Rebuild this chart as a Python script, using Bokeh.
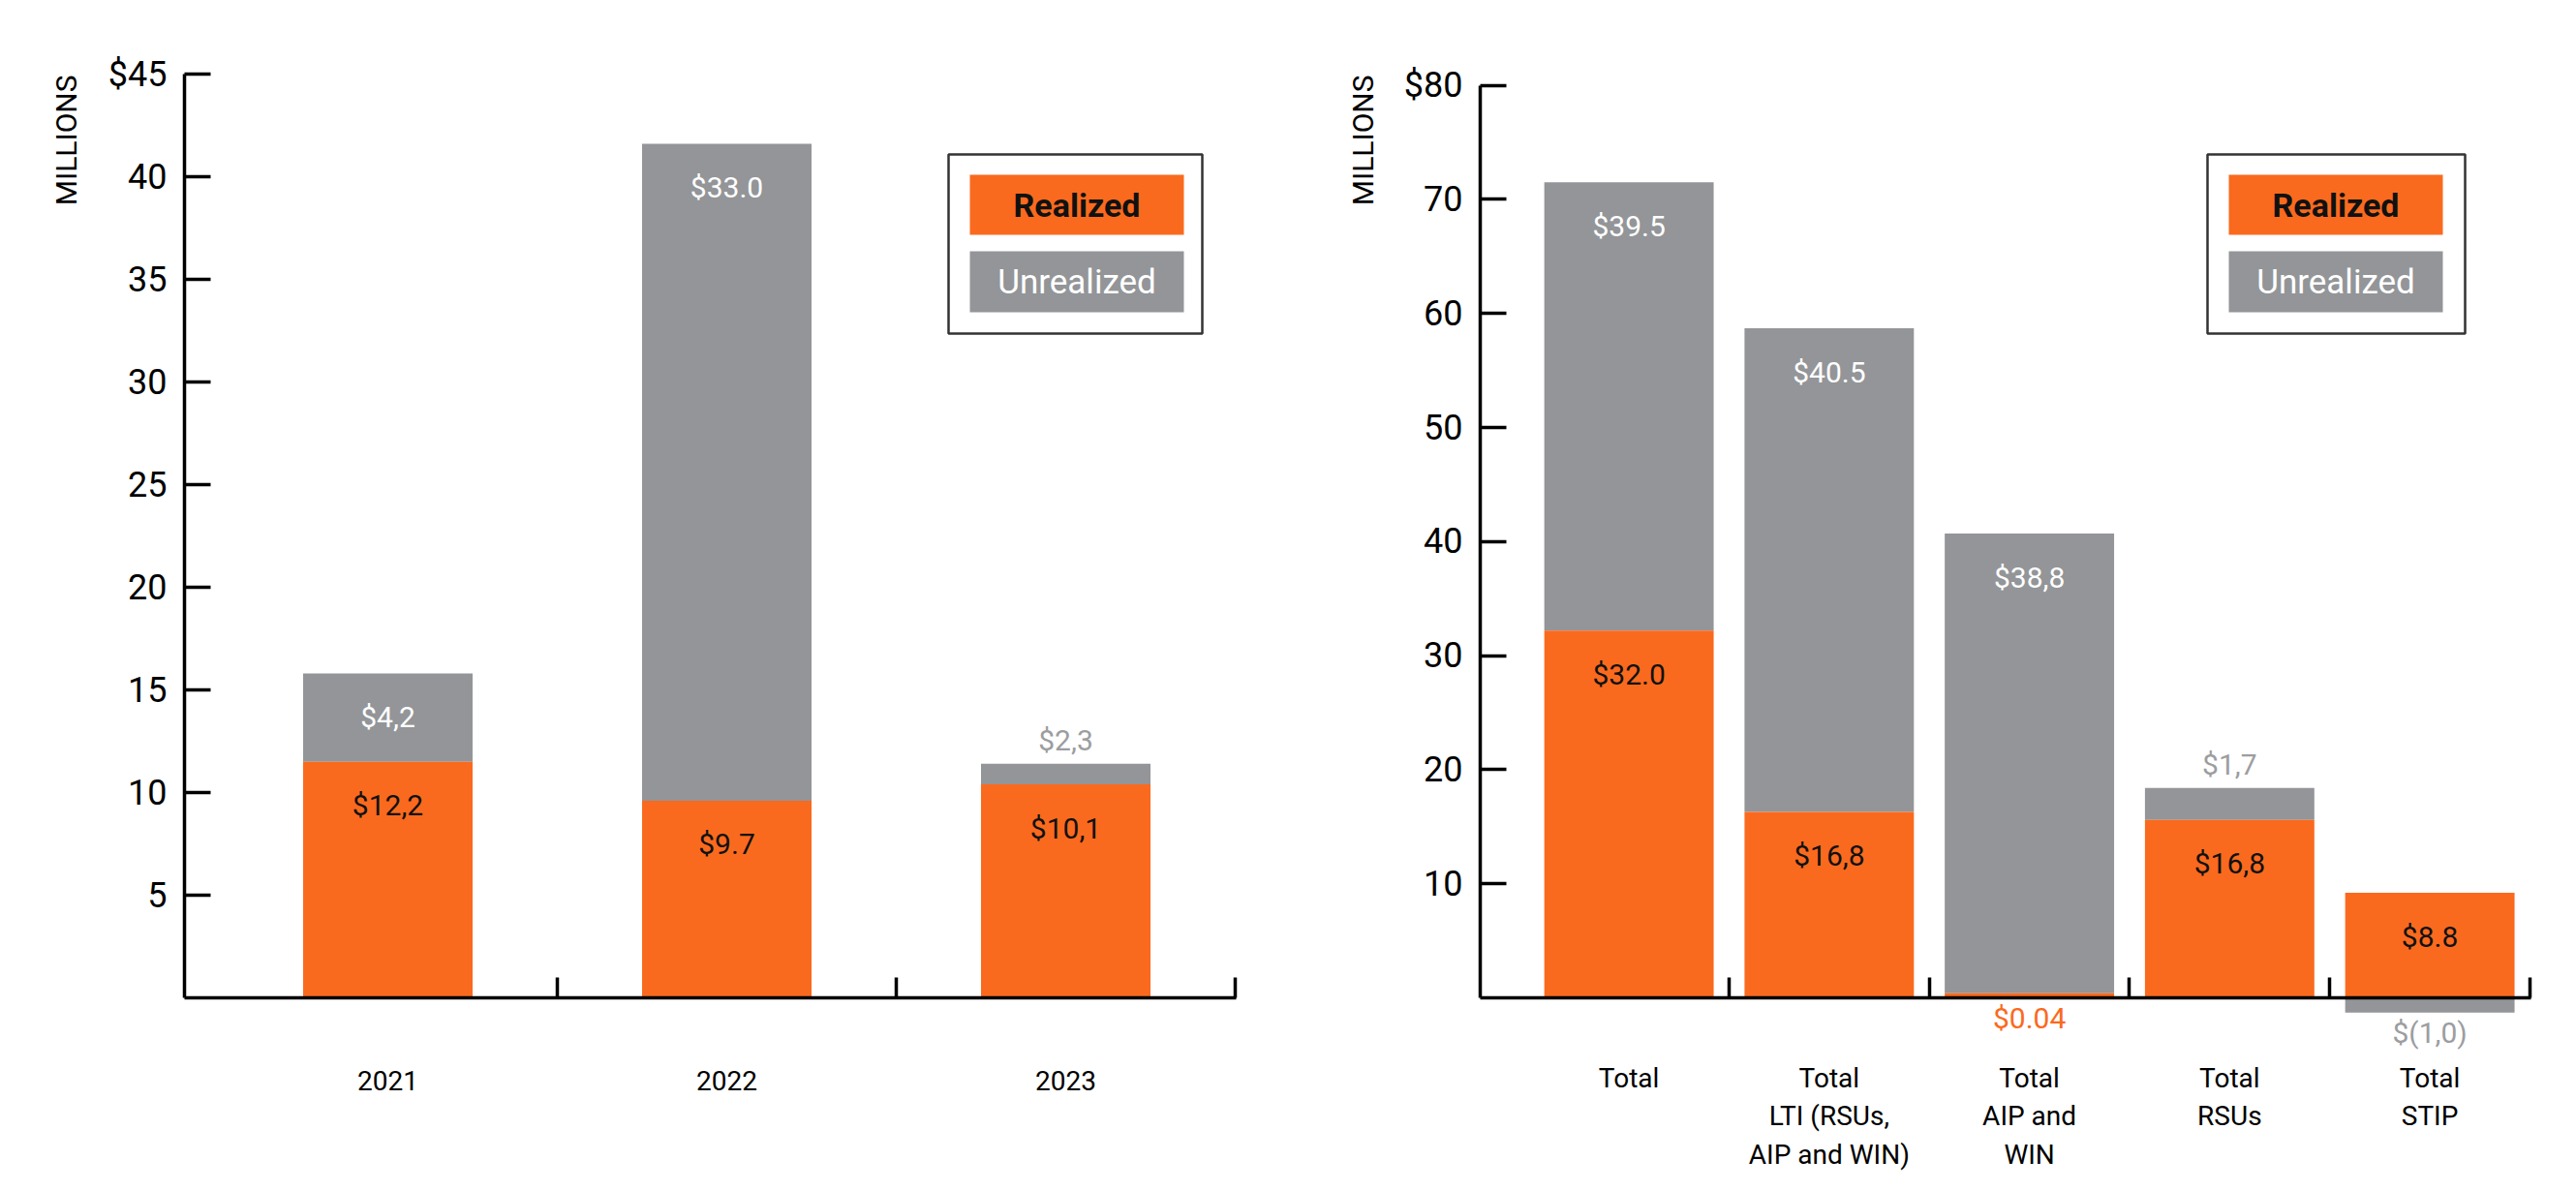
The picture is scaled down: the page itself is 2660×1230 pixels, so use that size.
import math
from bokeh.plotting import figure
from bokeh.models import ColumnDataSource, FixedTicker, LinearAxis, Range1d
from bokeh.layouts import row
from bokeh.embed import file_html
from bokeh.resources import INLINE
from bokeh.core.properties import value

ORANGE = "#FA6A1E"
GRAY = "#939598"
SOFT_GRAY = "#9C9DA0"
INK = "#111111"
FONT = "Roboto"

# ---------------- data: left chart (by year) ----------------
years = ["2021", "2022", "2023"]
years_realized = [11.5, 9.6, 10.4]
years_unrealized = [4.3, 32.0, 1.0]
years_realized_text = ["$12,2", "$9.7", "$10,1"]
years_unrealized_text = ["$4,2", "$33.0", "$2,3"]
years_yticks = [5, 10, 15, 20, 25, 30, 35, 40, 45]

# ---------------- data: right chart (by component) ----------------
groups = ["Total", "Total\nLTI (RSUs,\nAIP and WIN)", "Total\nAIP and\nWIN", "Total\nRSUs", "Total\nSTIP"]
groups_realized = [32.2, 16.3, 0.4, 15.6, 9.2]
groups_unrealized = [39.3, 42.4, 40.3, 2.8, -1.3]
groups_realized_text = ["$32.0", "$16,8", "$0.04", "$16,8", "$8.8"]
groups_unrealized_text = ["$39.5", "$40.5", "$38,8", "$1,7", "$(1,0)"]
groups_yticks = [10, 20, 30, 40, 50, 60, 70, 80]

series_names = ["Realized", "Unrealized"]
axis_title = "MILLIONS"

# label placement (style, not data)
years_realized_place = ["in", "in", "in"]
years_unrealized_place = ["in", "in", "above"]
groups_realized_place = ["in", "in", "below", "in", "in"]
groups_unrealized_place = ["in", "in", "in", "above", "below"]

PAGE = 0          # the page places the layout at its top-left corner
FIG_H = 1220
OFFSETS = {"in": 45, "above": -24, "below": 21}

# geometry in page pixels: where category 0 centre lies, px per category, where y=0 lies, px per unit
LEFT = dict(page_left=0, width=1340, cx0=400.0, ppx=350.0, zero_py=1030.0, ppy=21.2,
            axis_px=190.0, bar_w=0.5, label_standoff=75,
            legend_box=(979, 159, 1241, 344),
            swatches=[(1001, 180, 1222, 242), (1001, 259, 1222, 322)],
            millions=(68, 77))
RIGHT = dict(page_left=1340, width=1310, cx0=1681.6, ppx=206.75, zero_py=1030.0, ppy=11.78,
             axis_px=1528.0, bar_w=0.846, label_standoff=66,
             legend_box=(2279, 159, 2545, 344),
             swatches=[(2301, 180, 2522, 242), (2301, 259, 2522, 322)],
             millions=(1407, 77))


def px_to_x(px, g):
    return (px - g["cx0"]) / g["ppx"]


def px_to_y(py, g):
    return (g["zero_py"] - py) / g["ppy"]


def build(cats, real, unreal, real_txt, unreal_txt, real_place, unreal_place, yticks, g):
    n = len(cats)
    x0 = px_to_x(g["page_left"], g)
    x1 = px_to_x(g["page_left"] + g["width"], g)
    y1 = px_to_y(PAGE, g)
    y0 = px_to_y(PAGE + FIG_H, g)

    p = figure(frame_width=g["width"], frame_height=FIG_H,
               x_range=Range1d(x0, x1), y_range=Range1d(y0, y1),
               min_border_left=0, min_border_right=0, min_border_top=0, min_border_bottom=0,
               output_backend="svg", toolbar_location=None,
               x_axis_location=None, y_axis_location=None)
    p.grid.grid_line_color = None
    p.outline_line_color = None
    p.background_fill_color = "white"
    p.border_fill_color = "white"

    xs = list(range(n))
    hw = g["bar_w"] / 2.0
    axis_x = px_to_x(g["axis_px"], g)

    # bars
    r_bottom = [0.0] * n
    r_top = list(real)
    u_bottom = [r if u >= 0 else u for r, u in zip(real, unreal)]
    u_top = [r + u if u >= 0 else 0.0 for r, u in zip(real, unreal)]
    bars_r = ColumnDataSource(dict(left=[x - hw for x in xs], right=[x + hw for x in xs],
                                   bottom=r_bottom, top=r_top))
    bars_u = ColumnDataSource(dict(left=[x - hw for x in xs], right=[x + hw for x in xs],
                                   bottom=u_bottom, top=u_top))
    p.quad(left="left", right="right", bottom="bottom", top="top", source=bars_u,
           fill_color=GRAY, line_color=None)
    p.quad(left="left", right="right", bottom="bottom", top="top", source=bars_r,
           fill_color=ORANGE, line_color=None)

    # value labels
    lx, ly, lt, lc, ld = [], [], [], [], []
    for i in range(n):
        for kind, txt, place, bot, top in (("r", real_txt[i], real_place[i], r_bottom[i], r_top[i]),
                                            ("u", unreal_txt[i], unreal_place[i], u_bottom[i], u_top[i])):
            lx.append(xs[i])
            lt.append(txt)
            ld.append(OFFSETS[place])
            if place == "below":
                ly.append(bot)
                lc.append(ORANGE if kind == "r" else SOFT_GRAY)
            else:
                ly.append(top)
                if place == "above":
                    lc.append(SOFT_GRAY)
                else:
                    lc.append(INK if kind == "r" else "white")
    lsrc = ColumnDataSource(dict(x=lx, y=ly, text=lt, color=lc, dy=ld))
    p.text(x="x", y="y", text="text", source=lsrc, text_color="color", y_offset="dy",
           text_align="center", text_baseline="middle",
           text_font=value(FONT), text_font_size="30px")

    # y axis, fixed at the left end of the baseline
    ya = LinearAxis(ticker=FixedTicker(ticks=yticks, minor_ticks=[]), bounds=(0, yticks[-1]),
                    fixed_location=axis_x)
    ya.major_label_overrides = {yticks[-1]: "$" + str(yticks[-1])}
    ya.axis_line_width = 3.5
    ya.axis_line_color = "black"
    ya.major_tick_in = 27
    ya.major_tick_out = 0
    ya.major_tick_line_width = 3.5
    ya.major_tick_line_color = "black"
    ya.minor_tick_line_color = None
    ya.major_label_standoff = 18
    ya.major_label_text_font = FONT
    ya.major_label_text_font_size = "36px"
    ya.major_label_text_color = "black"
    p.add_layout(ya, "left")

    # x axis at y = 0 (category labels at centres, boundary ticks as minor ticks)
    xa = LinearAxis(ticker=FixedTicker(ticks=xs, minor_ticks=[x + 0.5 for x in xs]),
                    bounds=(axis_x, n - 0.5 + 0.004), fixed_location=0)
    xa.major_label_overrides = {i: c for i, c in enumerate(cats)}
    xa.axis_line_width = 3.5
    xa.axis_line_color = "black"
    xa.major_tick_line_color = None
    xa.major_tick_in = 0
    xa.major_tick_out = 0
    xa.minor_tick_in = 21
    xa.minor_tick_out = 0
    xa.minor_tick_line_width = 3.5
    xa.minor_tick_line_color = "black"
    xa.major_label_standoff = g["label_standoff"]
    xa.major_label_text_font = FONT
    xa.major_label_text_font_size = "28px"
    xa.major_label_text_color = "black"
    p.add_layout(xa, "below")

    # "MILLIONS" title, reading upwards
    mx, my = g["millions"]
    p.text(x=[px_to_x(mx, g)], y=[px_to_y(my, g)], text=[axis_title], angle=math.pi / 2,
           text_align="right", text_baseline="middle",
           text_font=value(FONT), text_font_size="30px", text_color="black")

    # legend box
    bl, bt, br, bb = g["legend_box"]
    p.quad(left=[px_to_x(bl, g)], right=[px_to_x(br, g)], top=[px_to_y(bt, g)], bottom=[px_to_y(bb, g)],
           fill_color="white", line_color="#333333", line_width=2.5)
    sw = g["swatches"]
    p.quad(left=[px_to_x(s[0], g) for s in sw], right=[px_to_x(s[2], g) for s in sw],
           top=[px_to_y(s[1], g) for s in sw], bottom=[px_to_y(s[3], g) for s in sw],
           fill_color=[ORANGE, GRAY], line_color=None)
    cx = [px_to_x((s[0] + s[2]) / 2.0, g) for s in sw]
    cy = [px_to_y((s[1] + s[3]) / 2.0, g) for s in sw]
    p.text(x=[cx[0]], y=[cy[0]], text=[series_names[0]], text_color=INK, text_font=value(FONT),
           text_font_style="bold", text_font_size="34px", text_align="center", text_baseline="middle")
    p.text(x=[cx[1]], y=[cy[1]], text=[series_names[1]], text_color="white", text_font=value(FONT),
           text_font_size="35px", text_align="center", text_baseline="middle")
    return p


p1 = build(years, years_realized, years_unrealized, years_realized_text, years_unrealized_text,
           years_realized_place, years_unrealized_place, years_yticks, LEFT)
p2 = build(groups, groups_realized, groups_unrealized, groups_realized_text, groups_unrealized_text,
           groups_realized_place, groups_unrealized_place, groups_yticks, RIGHT)

layout = row(p1, p2)
open("out.html", "w").write(file_html(layout, INLINE))
